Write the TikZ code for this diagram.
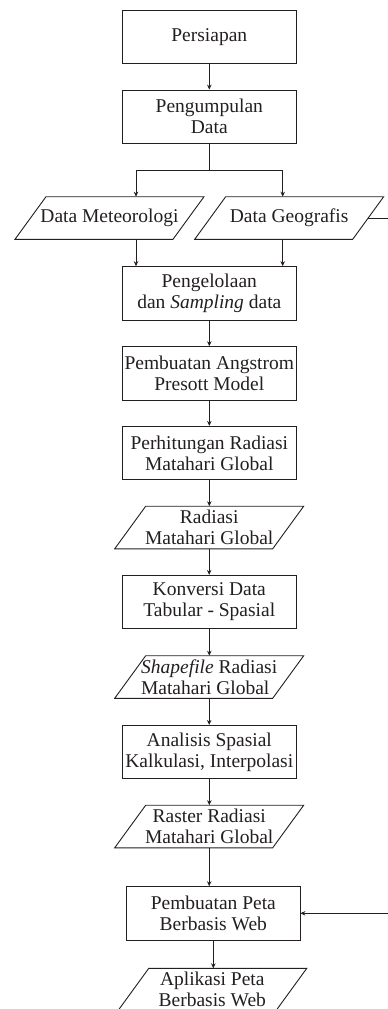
\documentclass[tikz,border=0pt]{standalone}
\usepackage{fontspec}
\setmainfont{Liberation Serif}
\usetikzlibrary{arrows.meta}
\definecolor{ink}{RGB}{35,31,32}
\newcommand{\drawpara}[1]{%
  \draw[draw=ink, line width=0.9pt] ([xshift=15.5pt]#1.north west) -- ([xshift=15.5pt]#1.north east)
    -- ([xshift=-15.5pt]#1.south east) -- ([xshift=-15.5pt]#1.south west) -- cycle;}
\begin{document}
\begin{tikzpicture}[x=1pt,y=-1pt,
  every node/.style={font=\fontsize{19.5}{21}\selectfont, text=ink, align=center},
  procbox/.style={draw=ink, line width=0.9pt, rectangle, minimum width=173.3pt, minimum height=53.3pt, inner sep=1pt},
  iobox/.style={rectangle, minimum width=158pt, minimum height=42.6pt, inner sep=0pt, outer sep=0pt},
  conn/.style={draw=ink, line width=0.8pt},
  arr/.style={conn, -{Stealth[length=5pt,width=4.5pt]}}]
\useasboundingbox (0,0) rectangle (388,1009);
\node[procbox] (pers) at (209.3,36.7) {Persiapan};
\node[procbox] (pd) at (209.3,116.7) {Pengumpulan\\Data};
\node[iobox] (met) at (109.5,218) {Data Meteorologi};
\node[iobox] (geo) at (289.2,218) {Data Geografis};
\node[procbox] (peng) at (209.3,293.3) {Pengelolaan\\dan \textit{Sampling} data};
\node[procbox] (ang) at (209.3,373.3) {Pembuatan Angstrom\\Presott Model};
\node[procbox] (per) at (209.3,453) {Perhitungan Radiasi\\Matahari Global};
\node[iobox] (rad) at (209.2,527.5) {Radiasi\\Matahari Global};
\node[procbox] (kon) at (209.3,602) {Konversi Data\\Tabular - Spasial};
\node[iobox] (shp) at (209.2,677) {\textit{Shapefile} Radiasi\\Matahari Global\hspace*{8pt}};
\node[procbox] (ana) at (209.3,752) {Analisis Spasial\\Kalkulasi, Interpolasi};
\node[iobox] (ras) at (209.2,826.5) {Raster Radiasi\\Matahari Global};
\node[procbox] (pp) at (213.3,913.3) {Pembuatan Peta\\Berbasis Web};
\node[iobox] (apl) at (212.3,989.6) {Aplikasi Peta\\Berbasis Web};
\drawpara{met}
\drawpara{geo}
\drawpara{rad}
\drawpara{shp}
\drawpara{ras}
\drawpara{apl}
\coordinate (split) at (209.3,170);
\coordinate (m1) at ([xshift=26.5pt]met.north);
\coordinate (g1) at ([xshift=-6.5pt]geo.north);
\coordinate (m2) at ([xshift=26.5pt]met.south);
\coordinate (g2) at ([xshift=-6.5pt]geo.south);
\coordinate (rc) at (392,0);
\draw[arr] (pers) -- (pd);
\draw[conn] (pd.south) -- (split);
\draw[arr] (split) -| (m1);
\draw[arr] (split) -| (g1);
\draw[arr] (m2) -- (m2 |- peng.north);
\draw[arr] (g2) -- (g2 |- peng.north);
\draw[arr] (peng) -- (ang);
\draw[arr] (ang) -- (per);
\draw[arr] (per.south) -- (per.south |- rad.north);
\draw[arr] (rad.south) -- (rad.south |- kon.north);
\draw[arr] (kon.south) -- (kon.south |- shp.north);
\draw[arr] (shp.south) -- (shp.south |- ana.north);
\draw[arr] (ana.south) -- (ana.south |- ras.north);
\draw[arr] (ras.south) -- (ras.south |- pp.north);
\draw[arr] (pp.south) -- (pp.south |- apl.north);
\draw[conn] (geo.east) -- (geo.east -| rc);
\draw[arr] (geo.east -| rc) |- (pp.east);
\end{tikzpicture}
\end{document}
